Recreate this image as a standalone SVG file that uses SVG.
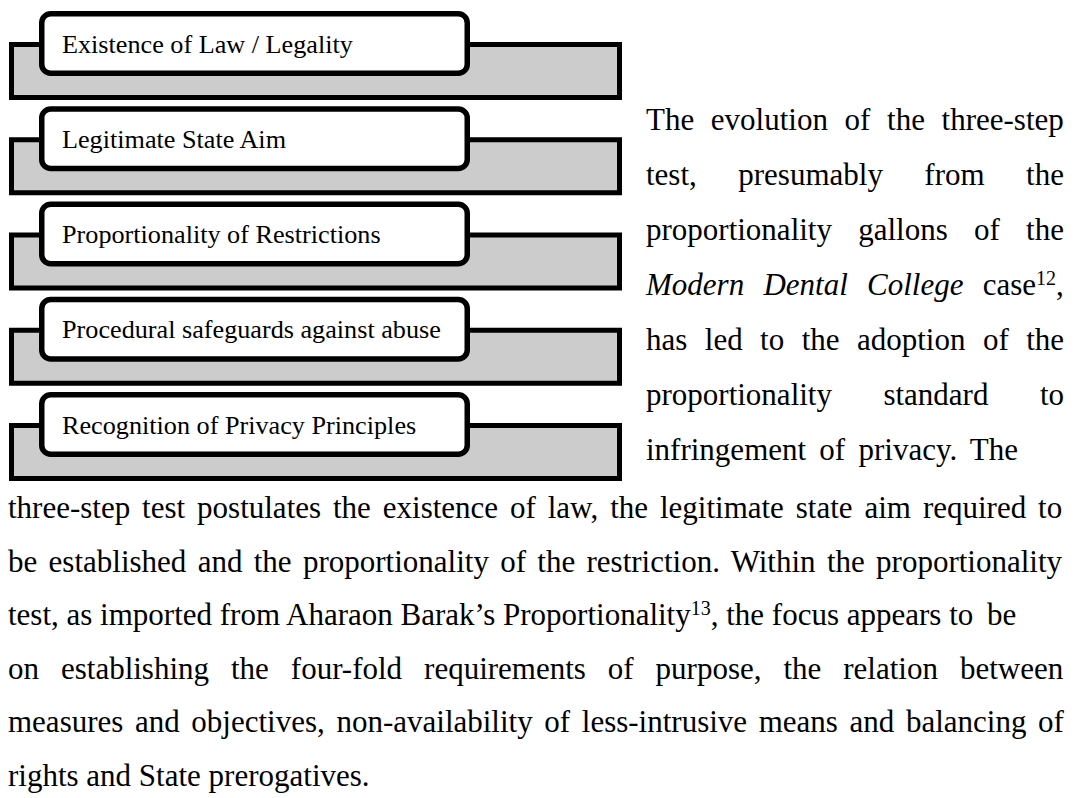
<svg xmlns="http://www.w3.org/2000/svg" width="1076" height="798" viewBox="0 0 1076 798">
<style>
  .bg{fill:#ffffff}
  .tab{fill:#cccccc;stroke:#000000;stroke-width:5}
  .lbl{fill:#ffffff;stroke:#000000;stroke-width:5.5}
  .lt{font-family:"Liberation Serif","Times New Roman",serif;font-size:26.2px;fill:#000000}
  .bt{font-family:"Liberation Serif","Times New Roman",serif;font-size:31px;fill:#000000}
  .it{font-style:italic}
  .sup{font-size:20px}
</style>
<rect class="bg" x="0" y="0" width="1076" height="798"/>

<g id="node-existence-of-law">
  <rect class="tab" x="11.5" y="44.5" width="608" height="53"/>
  <rect class="lbl" x="41.75" y="13.75" width="425.5" height="59.5" rx="9" ry="9"/>
  <text class="lt" x="62" y="52.7">Existence of Law / Legality</text>
</g>
<g id="node-legitimate-state-aim">
  <rect class="tab" x="11.5" y="139.75" width="608" height="53"/>
  <rect class="lbl" x="41.75" y="109" width="425.5" height="59.5" rx="9" ry="9"/>
  <text class="lt" x="62" y="147.95">Legitimate State Aim</text>
</g>
<g id="node-proportionality">
  <rect class="tab" x="11.5" y="235" width="608" height="53"/>
  <rect class="lbl" x="41.75" y="204.25" width="425.5" height="59.5" rx="9" ry="9"/>
  <text class="lt" x="62" y="243.2">Proportionality of Restrictions</text>
</g>
<g id="node-procedural-safeguards">
  <rect class="tab" x="11.5" y="330.25" width="608" height="53"/>
  <rect class="lbl" x="41.75" y="299.5" width="425.5" height="59.5" rx="9" ry="9"/>
  <text class="lt" x="62" y="338.45">Procedural safeguards against abuse</text>
</g>
<g id="node-privacy-principles">
  <rect class="tab" x="11.5" y="425.5" width="608" height="53"/>
  <rect class="lbl" x="41.75" y="394.75" width="425.5" height="59.5" rx="9" ry="9"/>
  <text class="lt" x="62" y="433.7">Recognition of Privacy Principles</text>
</g>

<g id="connectors"></g>

<g id="body-text">
  <text class="bt" x="646" y="130" word-spacing="8.9">The evolution of the three-step</text>
  <text class="bt" x="646" y="185" word-spacing="33.7">test, presumably from the</text>
  <text class="bt" x="646" y="240" word-spacing="18.5">proportionality gallons of the</text>
  <text class="bt" x="646" y="295" word-spacing="11.5"><tspan class="it">Modern Dental College</tspan> case<tspan class="sup" dy="-10">12</tspan><tspan dy="10">,</tspan></text>
  <text class="bt" x="646" y="350" word-spacing="9.7">has led to the adoption of the</text>
  <text class="bt" x="646" y="405" word-spacing="43.7">proportionality standard to</text>
  <text class="bt" x="646" y="460" word-spacing="5.5">infringement of privacy. The</text>

  <text class="bt" x="8" y="518" word-spacing="4.16">three-step test postulates the existence of law, the legitimate state aim required to</text>
  <text class="bt" x="8" y="571.5" word-spacing="3.57">be established and the proportionality of the restriction. Within the proportionality</text>
  <text class="bt" x="8" y="625">test, as imported from Aharaon Barak’s Proportionality<tspan class="sup" dy="-10">13</tspan><tspan dy="10">, the focus appears to</tspan></text>
  <text class="bt" x="987" y="625">be</text>
  <text class="bt" x="8" y="678.5" word-spacing="14.2">on establishing the four-fold requirements of purpose, the relation between</text>
  <text class="bt" x="8" y="732" word-spacing="3.88">measures and objectives, non-availability of less-intrusive means and balancing of</text>
  <text class="bt" x="8" y="785.5">rights and State prerogatives.</text>
</g>
</svg>
